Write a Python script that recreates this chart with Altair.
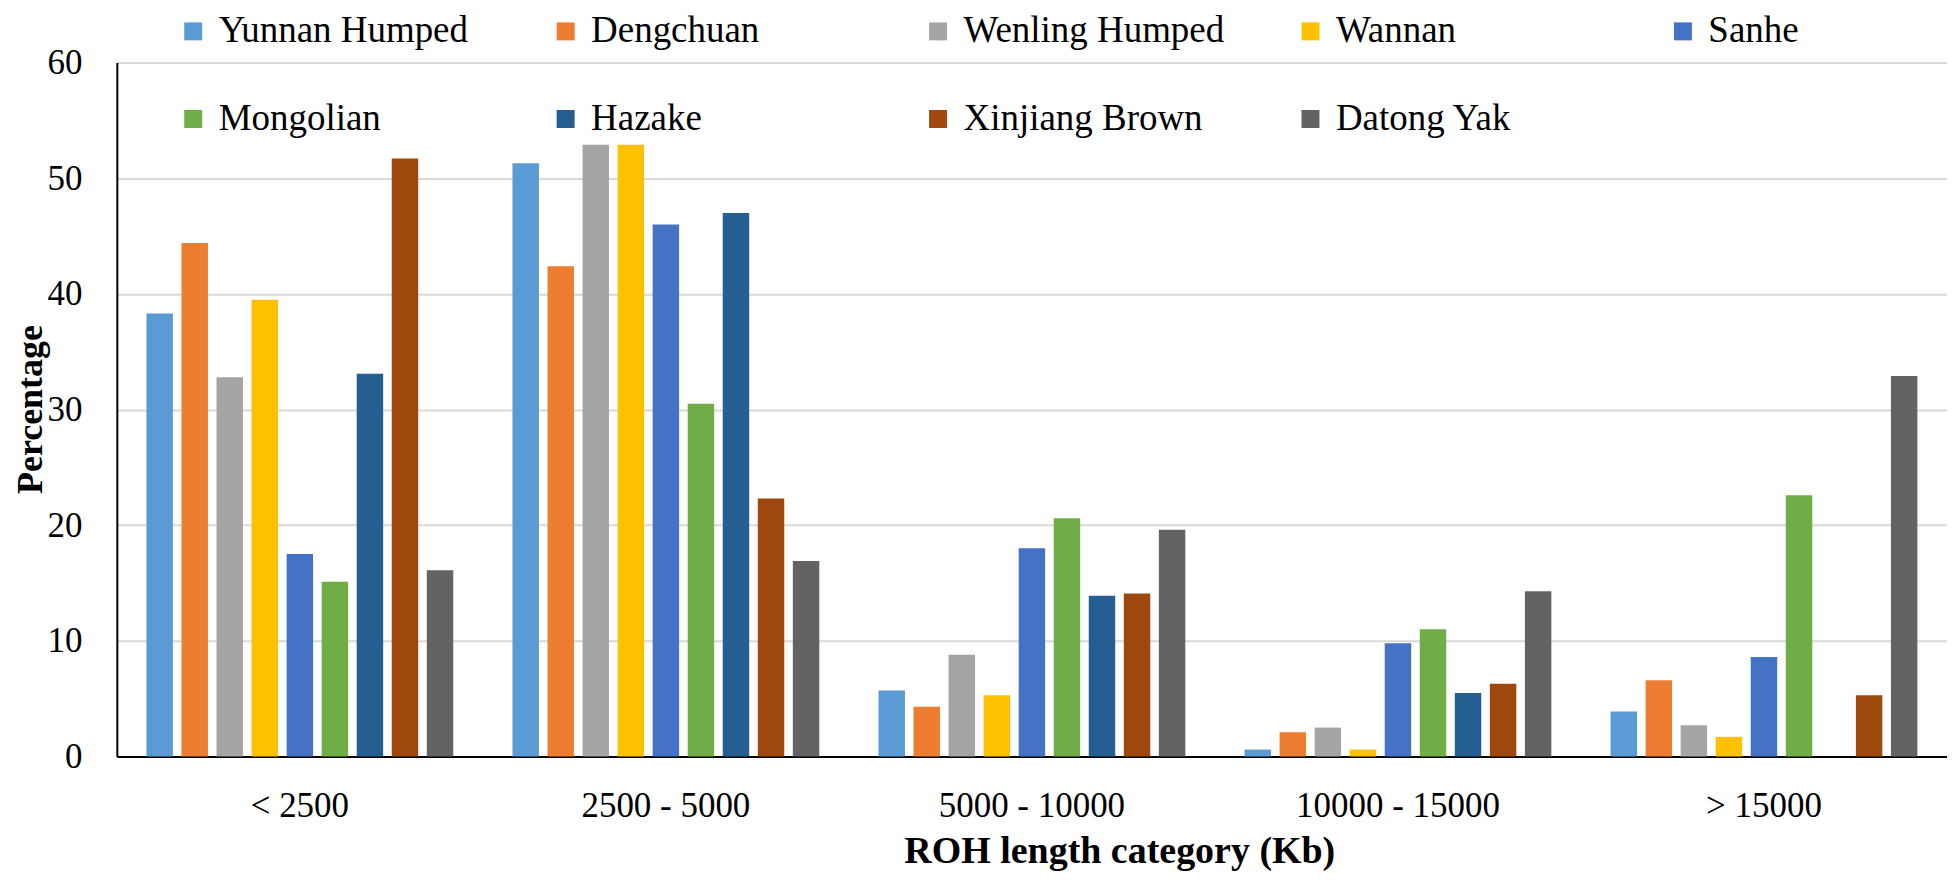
import altair as alt
import pandas as pd

categories = ["< 2500", "2500 - 5000", "5000 - 10000", "10000 - 15000", "> 15000"]
breeds = ["Yunnan Humped", "Dengchuan", "Wenling Humped", "Wannan", "Sanhe",
          "Mongolian", "Hazake", "Xinjiang Brown", "Datong Yak"]
colors = ["#5B9BD5", "#ED7D31", "#A5A5A5", "#FFC000", "#4472C4",
          "#70AD47", "#255E91", "#9E480E", "#636363"]

yunnan_humped = [38.3, 51.3, 5.7, 0.6, 3.9]
dengchuan = [44.4, 42.4, 4.3, 2.1, 6.6]
wenling_humped = [32.8, 52.9, 8.8, 2.5, 2.7]
wannan = [39.5, 52.9, 5.3, 0.6, 1.7]
sanhe = [17.5, 46.0, 18.0, 9.8, 8.6]
mongolian = [15.1, 30.5, 20.6, 11.0, 22.6]
hazake = [33.1, 47.0, 13.9, 5.5, 0.0]
xinjiang_brown = [51.7, 22.3, 14.1, 6.3, 5.3]
datong_yak = [16.1, 16.9, 19.6, 14.3, 32.9]

series = [yunnan_humped, dengchuan, wenling_humped, wannan, sanhe,
          mongolian, hazake, xinjiang_brown, datong_yak]

rows = []
for b, vals in zip(breeds, series):
    for c, v in zip(categories, vals):
        rows.append({"category": c, "breed": b, "value": v})
df = pd.DataFrame(rows)

FONT = "Liberation Serif"

chart = alt.Chart(df).mark_bar().encode(
    x=alt.X("category:N", sort=categories,
            scale=alt.Scale(paddingInner=0, paddingOuter=0),
            axis=alt.Axis(title="ROH length category (Kb)", labelAngle=0,
                          labelFont=FONT, labelFontSize=35, labelColor="black",
                          labelPadding=32, labelLimit=600, ticks=False,
                          domainColor="black", domainWidth=2,
                          titleFont=FONT, titleFontSize=38, titleFontWeight="bold",
                          titleColor="black", titleX=1004, titleY=106,
                          titleAlign="center", titleBaseline="alphabetic")),
    xOffset=alt.XOffset("breed:N", sort=breeds,
                        scale=alt.Scale(paddingInner=0.245, paddingOuter=0.845)),
    y=alt.Y("value:Q", scale=alt.Scale(domain=[0, 60], nice=False),
            axis=alt.Axis(title="Percentage", values=[0, 10, 20, 30, 40, 50, 60],
                          labelFont=FONT, labelFontSize=35, labelColor="black",
                          labelPadding=35, ticks=False,
                          domainColor="black", domainWidth=2,
                          gridColor="#D9D9D9", gridWidth=2,
                          titleFont=FONT, titleFontSize=36, titleFontWeight="bold",
                          titleColor="black", titleAngle=-90, titleX=-86,
                          titleY=347, titleAlign="center", titleBaseline="middle")),
    color=alt.Color("breed:N", sort=breeds,
                    scale=alt.Scale(domain=breeds, range=colors),
                    legend=alt.Legend(orient="none", legendX=58, legendY=-50,
                                      direction="horizontal", columns=5,
                                      gridAlign="all", columnPadding=67,
                                      rowPadding=50, title=None, padding=0,
                                      symbolType="square", symbolSize=324,
                                      symbolStrokeWidth=0, labelFont=FONT,
                                      labelFontSize=37, labelColor="black",
                                      labelOffset=7, labelLimit=500)),
).properties(
    width=1833, height=695,
    autosize=alt.AutoSizeParams(type="none"),
    padding={"left": 109, "top": 54, "right": 0, "bottom": 117},
).configure_view(stroke=None).configure_axisX(grid=False)

chart.save("out.html", embed_options={"renderer": "svg", "actions": False})
